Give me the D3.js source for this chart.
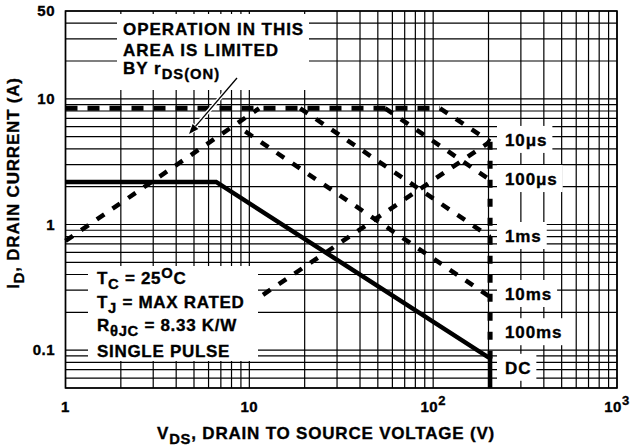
<!DOCTYPE html>
<html>
<head>
<meta charset="utf-8">
<script src="https://cdn.jsdelivr.net/npm/d3@7"></script>
<style>
body { margin: 0; background: #fff; }
text { font-family: "Liberation Sans", Arial, Helvetica, sans-serif; font-weight: bold; fill: #000; stroke: #000; stroke-width: 0.35px; }
</style>
</head>
<body>
<div id="chart"></div>
<script>
// axis ticks
var xTicks = [1, 10, 100, 1000];
var xTickBase = ["1", "10", "10", "10"];
var xTickSup = ["", "", "2", "3"];
var yTicks = [0.1, 1, 10, 50];
var yTickLabels = ["0.1", "1", "10", "50"];

// limit lines, [V, A]
var rdsLimit = [[1, 0.74], [11.3, 8.4]];
var currentLimit = [[1, 8.4], [109, 8.4]];
var pulse10us = [[109, 8.4], [204, 4.56]];
var pulse100us = [[54.8, 8.4], [204, 2.26]];
var pulse1ms = [[18.9, 8.4], [204, 0.795]];
var pulse10ms = [[9.5, 5.5], [204, 0.265]];
var risingLine = [[8, 0.187], [204, 4.56]];
var voltageLimit = [[204, 4.56], [204, 0.086]];
var dcLine = [[1, 2.18], [6.6, 2.18], [204, 0.086], [204, 0.05]];

// pulse labels on the right
var pulseNames = ["10\u03bcs", "100\u03bcs", "1ms", "10ms", "100ms", "DC"];
var pulseLabelAt = [4.71, 2.3, 0.81, 0.28, 0.139, 0.0724];

var w = 634, h = 448;
var svg = d3.select("#chart").append("svg")
    .attr("width", w)
    .attr("height", h);

var x = d3.scaleLog().domain([1, 1000]).range([65.5, 617]);
var y = d3.scaleLog().domain([0.05, 50]).range([388, 11]);

var line = d3.line()
    .x(function(d) { return x(d[0]); })
    .y(function(d) { return y(d[1]); });

// grid
var grid = svg.append("g").attr("stroke", "#000").attr("stroke-width", 1.2);
grid.selectAll("line.v")
    .data(x.ticks())
    .enter().append("line")
    .attr("x1", function(d) { return x(d); })
    .attr("x2", function(d) { return x(d); })
    .attr("y1", y(50)).attr("y2", y(0.05));
grid.selectAll("line.h")
    .data(y.ticks())
    .enter().append("line")
    .attr("x1", x(1)).attr("x2", x(1000))
    .attr("y1", function(d) { return y(d); })
    .attr("y2", function(d) { return y(d); });

svg.append("rect")
    .attr("x", x(1)).attr("y", y(50))
    .attr("width", x(1000) - x(1)).attr("height", y(0.05) - y(50))
    .attr("fill", "none").attr("stroke", "#000").attr("stroke-width", 1.6);

// curves
function dashed(data, width, dash) {
    svg.append("path")
        .attr("d", line(data))
        .attr("fill", "none")
        .attr("stroke", "#000")
        .attr("stroke-width", width)
        .attr("stroke-dasharray", dash);
}
dashed(currentLimit, 5, "12,10");
dashed(rdsLimit, 4.5, "9,10");
dashed(pulse10us, 4.5, "9,10");
dashed(pulse100us, 4.5, "9,10");
dashed(pulse1ms, 4.5, "9,10");
dashed(pulse10ms, 4.5, "9,10");
dashed(risingLine, 4.5, "9,10");
dashed(voltageLimit, 5, "8,11");

svg.append("path")
    .attr("d", line(dcLine))
    .attr("fill", "none")
    .attr("stroke", "#000")
    .attr("stroke-width", 4.5)
    .attr("stroke-linejoin", "miter");

// white boxes behind the notes
svg.append("rect").attr("x", 117).attr("y", 14).attr("width", 192).attr("height", 76).attr("fill", "#fff");
svg.append("rect").attr("x", 88).attr("y", 266).attr("width", 170).attr("height", 95).attr("fill", "#fff");

// text helper: parts of [string, "n"|"sub"|"sup"]
function rich(t, parts, size) {
    var off = 0;
    parts.forEach(function(p) {
        var target = p[1] == "sub" ? 5 : (p[1] == "sup" ? -6 : 0);
        t.append("tspan")
            .attr("dy", target - off)
            .attr("font-size", p[1] == "n" ? size : size * 0.87)
            .text(p[0]);
        off = target;
    });
}

var noteStyle = function(t) { return t.attr("font-size", 17).attr("letter-spacing", 0.7); };

noteStyle(svg.append("text").attr("x", 123).attr("y", 35))
    .attr("letter-spacing", 0.95)
    .text("OPERATION IN THIS");
noteStyle(svg.append("text").attr("x", 123).attr("y", 55.5)).attr("letter-spacing", 1).text("AREA IS LIMITED");
rich(noteStyle(svg.append("text").attr("x", 123).attr("y", 74)).attr("letter-spacing", 1),
    [["BY r", "n"], ["DS(ON)", "sub"]], 17);

// arrow
var a0 = [237, 78], a1 = [189, 134];
var dx = a1[0] - a0[0], dy = a1[1] - a0[1], len = Math.sqrt(dx * dx + dy * dy);
var ux = dx / len, uy = dy / len;
var hl = 10, hw = 3.8;
var base = [a1[0] - ux * hl, a1[1] - uy * hl];
var head = [a1, [base[0] - uy * hw, base[1] + ux * hw], [base[0] + uy * hw, base[1] - ux * hw]];
svg.append("line").attr("x1", a0[0]).attr("y1", a0[1]).attr("x2", base[0]).attr("y2", base[1])
    .attr("stroke", "#fff").attr("stroke-width", 4);
svg.append("polygon").attr("points", head.join(" ")).attr("fill", "#000").attr("stroke", "#fff").attr("stroke-width", 2);
svg.append("line").attr("x1", a0[0]).attr("y1", a0[1]).attr("x2", base[0]).attr("y2", base[1])
    .attr("stroke", "#000").attr("stroke-width", 1.3);
svg.append("polygon").attr("points", head.join(" ")).attr("fill", "#000");

// conditions box
rich(noteStyle(svg.append("text").attr("x", 97).attr("y", 284)),
    [["T", "n"], ["C", "sub"], [" = 25", "n"], ["O", "sup"], ["C", "n"]], 17);
rich(noteStyle(svg.append("text").attr("x", 97).attr("y", 308)),
    [["T", "n"], ["J", "sub"], [" = MAX RATED", "n"]], 17);
rich(noteStyle(svg.append("text").attr("x", 97).attr("y", 331)),
    [["R", "n"], ["\u03b8JC", "sub"], [" = 8.33 K/W", "n"]], 17);
noteStyle(svg.append("text").attr("x", 97).attr("y", 356.5)).text("SINGLE PULSE");

// pulse labels with white background
var pl = svg.append("g").selectAll("g")
    .data(pulseNames)
    .enter().append("g");
pl.append("rect");
pl.append("text")
    .attr("x", 505)
    .attr("y", function(d, i) { return y(pulseLabelAt[i]) + 6; })
    .attr("font-size", 17)
    .attr("letter-spacing", 0.9)
    .text(function(d) { return d; });
pl.each(function() {
    var g = d3.select(this);
    var b = g.select("text").node().getBBox();
    g.select("rect")
        .attr("x", 497).attr("y", b.y - 5)
        .attr("width", b.x + b.width + 5 - 497).attr("height", b.height + 8)
        .attr("fill", "#fff");
});

// tick labels
svg.append("g").selectAll("text")
    .data(yTicks)
    .enter().append("text")
    .attr("x", 55)
    .attr("y", function(d) { return y(d) + 5; })
    .attr("text-anchor", "end")
    .attr("font-size", 15)
    .attr("letter-spacing", 0.5)
    .text(function(d, i) { return yTickLabels[i]; });

var xl = svg.append("g").selectAll("text")
    .data(xTicks)
    .enter().append("text")
    .attr("x", function(d) { return x(d); })
    .attr("y", 412)
    .attr("text-anchor", "middle")
    .attr("font-size", 15)
    .attr("letter-spacing", 0.5);
xl.append("tspan").text(function(d, i) { return xTickBase[i]; });
xl.append("tspan").attr("dy", -7).attr("font-size", 13)
    .text(function(d, i) { return xTickSup[i]; });

// axis titles
rich(svg.append("text").attr("x", 326).attr("y", 439).attr("text-anchor", "middle")
        .attr("font-size", 17).attr("letter-spacing", 0.8),
    [["V", "n"], ["DS", "sub"], [", DRAIN TO SOURCE VOLTAGE (V)", "n"]], 17);
rich(svg.append("text").attr("transform", "translate(19,183) rotate(-90)").attr("text-anchor", "middle")
        .attr("font-size", 17).attr("letter-spacing", 0.8),
    [["I", "n"], ["D", "sub"], [", DRAIN CURRENT (A)", "n"]], 17);
</script>
</body>
</html>
